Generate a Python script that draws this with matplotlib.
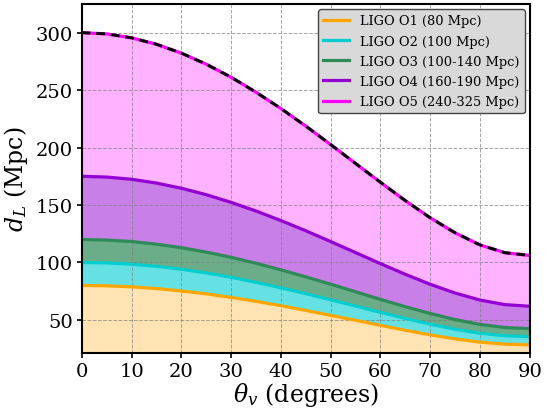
import matplotlib
matplotlib.use("Agg")
import matplotlib.pyplot as plt
import numpy as np

plt.rcParams["font.family"] = "DejaVu Serif"
plt.rcParams["mathtext.fontset"] = "dejavuserif"

theta = [0, 5, 10, 15, 20, 25, 30, 35, 40, 45, 50, 55, 60, 65, 70, 75, 80, 85, 90]

# horizon distance (Mpc) for each run
d_o1 = [80.0, 79.7, 78.8, 77.3, 75.2, 72.7, 69.6, 66.2, 62.4, 58.3, 54.0, 49.7, 45.3, 41.0, 37.0, 33.5, 30.7, 28.9, 28.3]
d_o2 = [100.0, 99.6, 98.5, 96.6, 94.1, 90.9, 87.1, 82.7, 78.0, 72.9, 67.5, 62.1, 56.6, 51.3, 46.3, 41.9, 38.4, 36.2, 35.4]
d_o3 = [120.0, 119.5, 118.2, 115.9, 112.9, 109.0, 104.5, 99.3, 93.6, 87.5, 81.1, 74.5, 67.9, 61.5, 55.6, 50.3, 46.1, 43.4, 42.4]
d_o4 = [175.0, 174.3, 172.4, 169.1, 164.6, 159.0, 152.3, 144.8, 136.5, 127.6, 118.2, 108.6, 99.0, 89.7, 81.0, 73.4, 67.3, 63.3, 61.9]
d_o5 = [300.0, 298.9, 295.5, 289.9, 282.2, 272.6, 261.2, 248.2, 234.0, 218.7, 202.6, 186.2, 169.8, 153.8, 138.9, 125.8, 115.3, 108.5, 106.1]

labels = [
    "LIGO O1 (80 Mpc)",
    "LIGO O2 (100 Mpc)",
    "LIGO O3 (100-140 Mpc)",
    "LIGO O4 (160-190 Mpc)",
    "LIGO O5 (240-325 Mpc)",
]
colors = ["orange", "darkturquoise", "seagreen", "darkviolet", "magenta"]
alphas = [0.3, 0.6, 0.7, 0.5, 0.3]

y_bottom = 21
curves = [d_o1, d_o2, d_o3, d_o4, d_o5]

fig = plt.figure(figsize=(5.45, 4.1), dpi=100)
ax = fig.add_axes([0.150, 0.136, 0.822, 0.852])

lower = np.full(len(theta), y_bottom)
for curve, color, alpha in zip(curves, colors, alphas):
    ax.fill_between(theta, lower, curve, color=color, alpha=alpha, linewidth=0)
    lower = np.array(curve)

for curve, color, label in zip(curves, colors, labels):
    ax.plot(theta, curve, color=color, linewidth=2.3, label=label)
ax.plot(theta, d_o5, color="black", linewidth=2.1, linestyle=(0, (3, 2)))

ax.set_xlim(0, 90)
ax.set_ylim(y_bottom, 325)
ax.set_xticks(range(0, 91, 10))
ax.set_yticks(range(50, 301, 50))
ax.tick_params(labelsize=14, width=1.2, pad=3)
ax.grid(True, color="gray", linestyle="--", linewidth=0.7, alpha=0.7)
for spine in ax.spines.values():
    spine.set_linewidth(1.5)

ax.set_xlabel(r"$\theta_v$ (degrees)", fontsize=17, labelpad=0)
ax.set_ylabel(r"$d_L$ (Mpc)", fontsize=17, labelpad=4)

leg = ax.legend(loc="upper right", fontsize=9.4, facecolor="#d9d9d9", edgecolor="#444444",
                framealpha=1.0, fancybox=True, handlelength=2.0, borderpad=0.4,
                labelspacing=0.55, borderaxespad=0.4)
leg.get_frame().set_linewidth(1.0)

fig.savefig("out.png", dpi=100)
